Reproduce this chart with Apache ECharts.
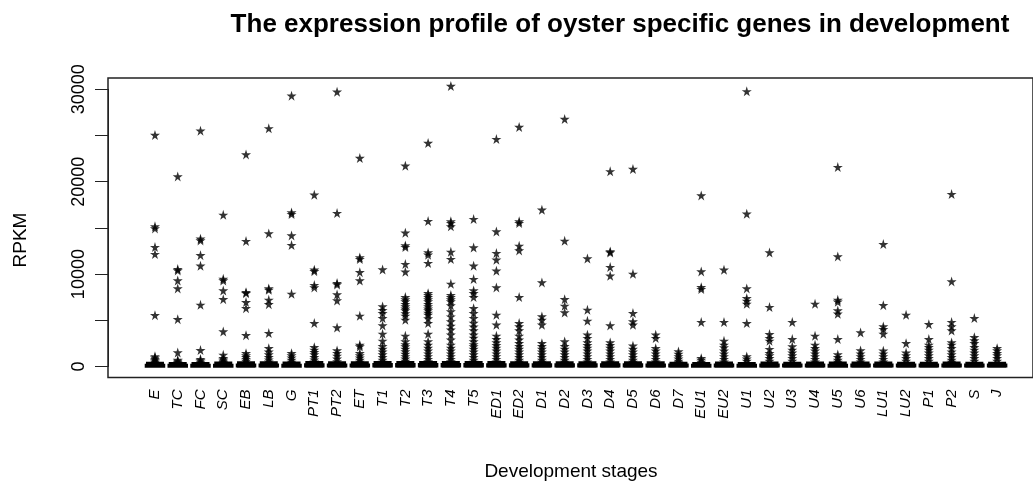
<!DOCTYPE html>
<html>
<head>
<meta charset="utf-8">
<script src="https://cdn.jsdelivr.net/npm/echarts@6/dist/echarts.min.js"></script>
<style>
html,body{margin:0;padding:0;background:#fff;}
#chart{width:1033px;height:493px;}
</style>
</head>
<body>
<div id="chart"></div>
<script>
var categories = ['E','TC','FC','SC','EB','LB','G','PT1','PT2','ET','T1','T2','T3','T4','T5','ED1','ED2','D1','D2','D3','D4','D5','D6','D7','EU1','EU2','U1','U2','U3','U4','U5','U6','LU1','LU2','P1','P2','S','J'];

var yTicks = [0, 5000, 10000, 15000, 20000, 25000, 30000];
var yLabels = ['0', '10000', '20000', '30000'];

// five-number summaries [min, Q1, median, Q3, max] per stage
var boxStats = [
  [0,10,40,160,380],[0,10,35,150,360],[0,10,35,150,360],[0,10,40,170,400],[0,15,50,200,420],
  [0,15,50,200,430],[0,10,40,170,400],[0,15,55,220,450],[0,15,50,200,420],[0,15,50,200,420],
  [0,20,60,240,450],[0,20,60,240,450],[0,20,60,240,450],[0,20,60,240,450],[0,20,60,240,450],
  [0,20,55,220,450],[0,20,55,220,440],[0,15,50,210,430],[0,15,50,210,430],[0,15,50,210,430],
  [0,15,50,210,430],[0,15,50,210,430],[0,15,50,200,420],[0,15,45,190,380],[0,10,35,150,360],
  [0,15,45,190,400],[0,10,35,150,360],[0,15,45,190,400],[0,15,45,190,380],[0,15,45,190,400],
  [0,10,40,170,400],[0,15,45,190,400],[0,15,45,190,400],[0,15,45,190,380],[0,15,45,190,380],
  [0,15,45,190,400],[0,15,45,190,380],[0,15,45,190,380]
];

// outlier values per stage (same order as categories)
var outliers = [
  [25030,15150,14930,12910,12150,5550,1100,950,800,650,500],
  [20550,10530,10390,9300,8440,5120,1515,720,600,480],
  [25500,13810,13630,12040,10890,6670,1770,800,650,500],
  [16400,9480,9300,8220,7280,3790,1260,900,750,600,470],
  [22930,13560,8040,7930,6960,6310,3390,1440,1200,1000,800,600],
  [25750,14390,8440,8290,7210,6740,3610,1980,1600,1300,1000,750,520],
  [29280,16660,16480,14170,13130,7860,1440,1200,950,700,500],
  [18570,10460,10310,8800,8550,4690,2090,1800,1550,1300,1000,750,520],
  [29710,16590,9020,8870,7790,7140,4220,1730,1450,1150,850,560],
  [22540,11790,11610,10200,9300,5480,2340,2160,1440,1200,950,700,500],
  [10490,6490,6100,5770,5230,4440,3530,2780,2200,1900,1600,1300,1000,700,500],
  [21710,14460,13090,12910,11070,10240,7500,7250,7030,6750,6490,6250,6060,5750,5480,5050,3320,2700,2400,2160,1900,1620,1350,1100,850,600],
  [24160,15720,12330,12080,11180,7930,7700,7500,7250,7030,6750,6490,6250,6060,5800,5590,5200,4690,3530,2700,2340,2000,1700,1400,1100,800,550],
  [30330,15690,15510,15150,12400,11610,8940,7720,7500,7250,7030,6600,5950,5400,4870,4400,3970,3430,2890,2340,2000,1700,1400,1100,800,550],
  [15940,12870,10890,9450,8220,7930,7500,6310,5770,5230,4700,4300,3890,3430,3100,2700,2400,2160,1900,1600,1300,1000,700,500],
  [24590,14600,12260,11540,10350,8550,5590,4510,3320,2960,2600,2300,2000,1700,1400,1100,800,520],
  [25890,15690,15510,13050,12550,7500,4690,4330,3890,3320,2900,2520,2200,1900,1600,1300,1000,700,500],
  [16950,9090,5410,5050,4510,2520,2200,1900,1600,1300,1000,700,500],
  [26760,13590,7280,6560,5840,2700,2200,1900,1600,1300,1000,700,500],
  [11680,6130,4940,3430,3070,2600,2300,2000,1700,1400,1100,800,520],
  [21100,12440,12330,10750,9810,4440,2600,2300,2000,1700,1400,1100,800,520],
  [21350,10020,5770,4870,4510,2240,1900,1600,1300,1000,700,500],
  [3430,3070,1980,1700,1400,1100,800,520],
  [1620,1350,1100,850,600,450],
  [18500,10280,8580,8370,4800,900,700,500],
  [10460,4800,2780,2340,2060,1700,1400,1100,800,520],
  [29750,16520,8440,7390,7100,6780,4690,1080,850,600],
  [12330,6420,3500,3070,2780,1880,1440,1200,900,600],
  [4800,2960,2160,1800,1500,1200,900,600],
  [6780,3320,2340,1980,1700,1400,1100,800,520],
  [21560,11900,7210,7000,6060,5700,2960,1300,1000,700,500],
  [3680,1730,1400,1100,800,520],
  [13230,6630,4330,4040,3530,1700,1400,1100,800,520],
  [5590,2520,1500,1200,900,600],
  [4580,2960,2340,2090,1800,1500,1200,900,600],
  [18640,9200,4800,4330,3890,2600,2340,1980,1600,1300,1000,700,500],
  [5230,3170,2810,2520,2090,1800,1500,1200,900,600],
  [1980,1730,1440,1200,900,600]
];

var starPath = 'path://M50,0 L61,35 L98,35 L68,57 L79,91 L50,70 L21,91 L32,57 L2,35 L39,35 Z';

var scatterData = [];
outliers.forEach(function (arr, i) {
  arr.forEach(function (v) { scatterData.push([categories[i], v]); });
});

var Y_MIN = -1190, Y_MAX = 31190;
var FONT = 'Liberation Sans, Arial, sans-serif';

var chart = echarts.init(document.getElementById('chart'), null, {renderer: 'canvas'});
chart.setOption({
  backgroundColor: '#ffffff',
  animation: false,
  title: [
    {text: 'The expression profile of oyster specific genes in development',
     left: 615, top: 7, textAlign: 'center',
     textStyle: {fontFamily: FONT, fontWeight: 'bold', fontSize: 26, color: '#000'}},
    {text: 'Development stages', left: 566, top: 457, textAlign: 'center',
     textStyle: {fontFamily: FONT, fontWeight: 'normal', fontSize: 19, color: '#000'}}
  ],
  graphic: [
    {type: 'text', x: 21, y: 240, rotation: Math.PI / 2,
     style: {text: 'RPKM', font: '19px Liberation Sans, Arial, sans-serif', fill: '#000', textAlign: 'center', textVerticalAlign: 'middle'}}
  ],
  grid: [
    {left: 108, top: 78, width: 930, height: 299.5, show: true, borderColor: '#222', borderWidth: 1.5, backgroundColor: 'transparent'},
    {left: 143.6, top: 78, width: 864.9, height: 299.5},
    {left: 108, top: 89.3, width: 1, height: 277.2}
  ],
  xAxis: [
    {gridIndex: 0, type: 'value', show: false, min: 0, max: 1},
    {gridIndex: 1, type: 'category', data: categories, boundaryGap: true,
     axisLine: {show: false}, axisTick: {show: false},
     axisLabel: {rotate: 90, interval: 0, margin: 12, fontFamily: FONT, fontStyle: 'italic', fontSize: 15, color: '#000'}},
    {gridIndex: 2, type: 'value', show: false, min: 0, max: 1}
  ],
  yAxis: [
    {gridIndex: 0, type: 'value', show: false, min: Y_MIN, max: Y_MAX},
    {gridIndex: 1, type: 'value', show: false, min: Y_MIN, max: Y_MAX},
    {gridIndex: 2, type: 'value', min: yTicks[0], max: yTicks[yTicks.length - 1], interval: yTicks[1] - yTicks[0],
     splitLine: {show: false},
     axisLine: {show: true, lineStyle: {color: '#222', width: 1}},
     axisTick: {show: true, length: 13, lineStyle: {color: '#222', width: 1}},
     axisLabel: {rotate: 90, margin: 20, fontFamily: FONT, fontSize: 18, color: '#000',
       formatter: function (v) { var s = String(v); return yLabels.indexOf(s) >= 0 ? s : ''; }}}
  ],
  series: [
    {type: 'boxplot', xAxisIndex: 1, yAxisIndex: 1, data: boxStats, boxWidth: [18, 18],
     itemStyle: {color: '#000', borderColor: '#000', borderWidth: 2.5}},
    {type: 'scatter', xAxisIndex: 1, yAxisIndex: 1, data: scatterData, symbol: starPath, symbolSize: 10,
     itemStyle: {color: '#000'}}
  ]
});
</script>
</body>
</html>
